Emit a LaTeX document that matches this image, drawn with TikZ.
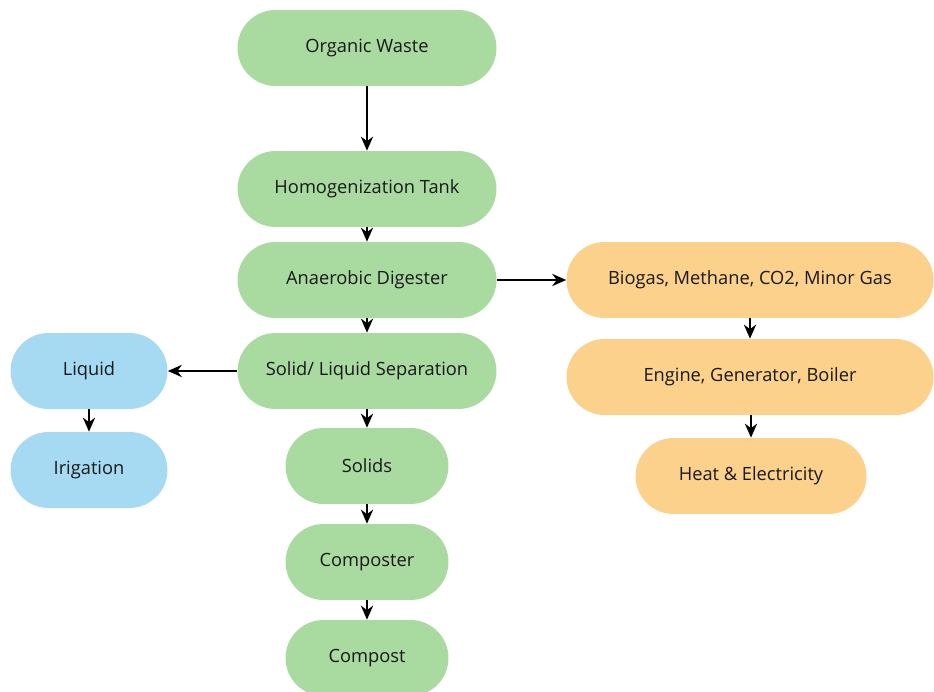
\documentclass[tikz,border=0pt]{standalone}
\usepackage{fontspec}
\setmainfont{Open Sans}
\usetikzlibrary{arrows.meta}

\definecolor{leaf}{HTML}{A9DAA0}
\definecolor{sky}{HTML}{A6DAF3}
\definecolor{sand}{HTML}{FCD18C}

\tikzset{
    stage/.style={rectangle, rounded corners=0.76cm, minimum height=1.52cm,
        inner sep=0pt, font=\fontsize{10.4}{12}\selectfont, text=black!90},
    greenbox/.style={stage, fill=leaf},
    bluebox/.style={stage, fill=sky},
    orangebox/.style={stage, fill=sand},
    flow/.style={-{Stealth[length=8pt,width=7pt]}, line width=0.75pt}
}

\begin{document}
\begin{tikzpicture}[x=0.02cm, y=-0.02cm]
    \useasboundingbox (0,0) rectangle (934,692);

    % main line
    \node[greenbox, minimum width=5.18cm] (waste) at (367,48) {Organic Waste};
    \node[greenbox, minimum width=5.18cm] (tank) at (367,189) {Homogenization Tank};
    \node[greenbox, minimum width=5.18cm] (digester) at (367,280) {Anaerobic Digester};
    \node[greenbox, minimum width=5.18cm] (separation) at (367,371) {Solid/ Liquid Separation};
    \node[greenbox, minimum width=3.26cm] (solids) at (367,466) {Solids};
    \node[greenbox, minimum width=3.26cm] (composter) at (367,562) {Composter};
    \node[greenbox, minimum width=3.26cm] (compost) at (367,658) {Compost};

    % liquid side
    \node[bluebox, minimum width=3.14cm] (liquid) at (89,371) {Liquid};
    \node[bluebox, minimum width=3.14cm] (irigation) at (89,470) {Irigation};

    % gas side
    \node[orangebox, minimum width=7.34cm] (biogas) at (750,280) {Biogas, Methane, CO2, Minor Gas};
    \node[orangebox, minimum width=7.34cm] (engine) at (750,377) {Engine, Generator, Boiler};
    \node[orangebox, minimum width=4.62cm] (heat) at (751,476) {Heat \& Electricity};

    \draw[flow] (waste) -- (tank);
    \draw[flow] (tank) -- (digester);
    \draw[flow] (digester) -- (separation);
    \draw[flow] (separation) -- (solids);
    \draw[flow] (solids) -- (composter);
    \draw[flow] (composter) -- (compost);

    \draw[flow] (separation) -- (liquid);
    \draw[flow] (liquid) -- (irigation);

    \draw[flow] (digester) -- (biogas);
    \draw[flow] (biogas) -- (engine);
    \draw[flow] (engine.south -| heat.north) -- (heat);

\end{tikzpicture}
\end{document}
